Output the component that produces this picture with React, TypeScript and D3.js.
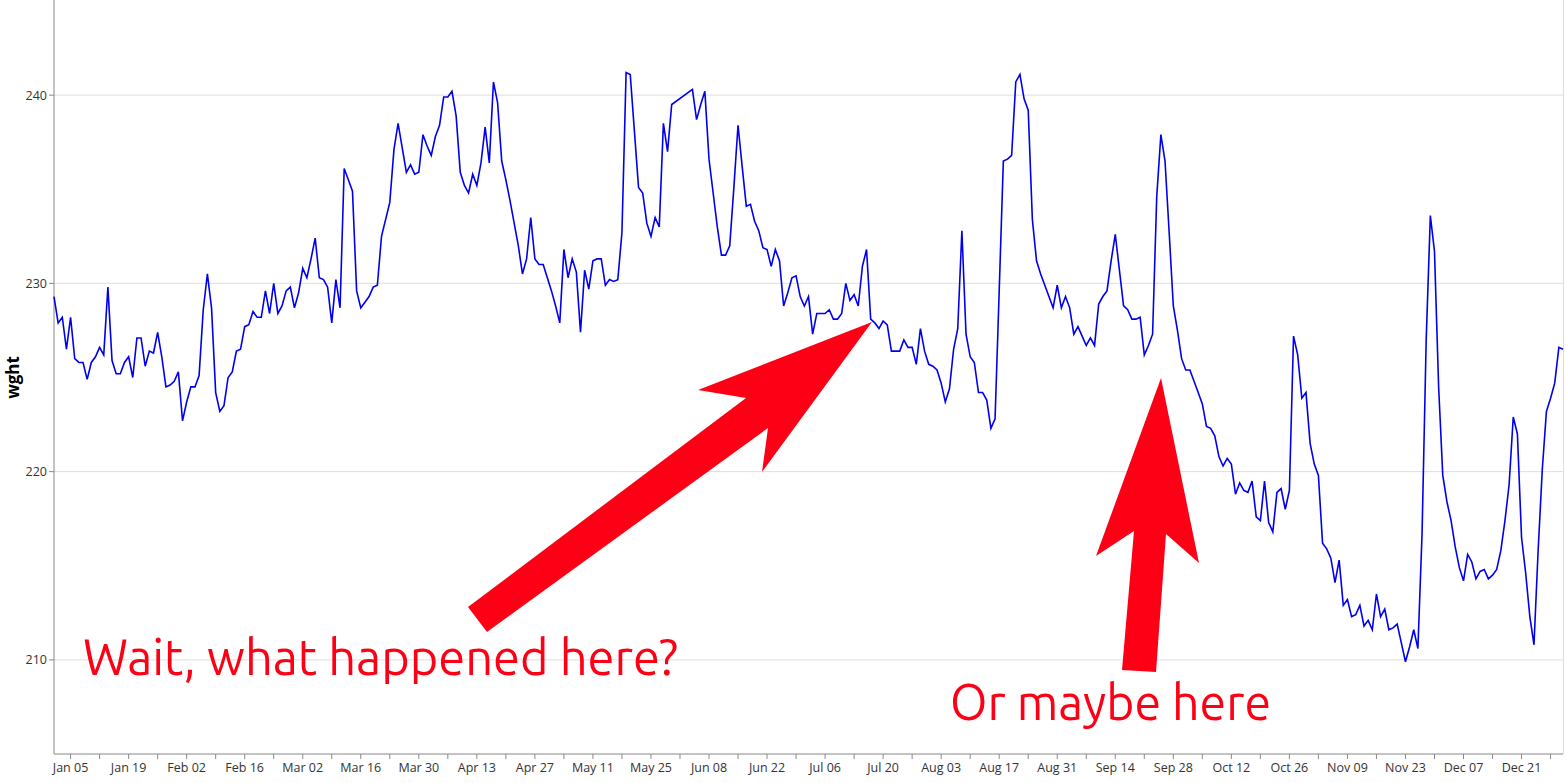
import React from "react";
import * as d3 from "d3";

// daily weight readings, 2014 (null = no reading that day)
const jan = [229.3, 227.9, 228.2, 226.5, 228.2, 226.0, 225.8, 225.8, 224.9, 225.8, 226.1, 226.6, 226.2, 229.8, 225.9, 225.2, 225.2, 225.8, 226.1, 225.0, 227.1, 227.1, 225.6, 226.4, 226.3, 227.4, 226.1, 224.5, 224.6, 224.8, 225.3];
const feb = [222.7, 223.7, 224.5, 224.5, 225.1, 228.6, 230.5, 228.7, 224.2, 223.2, 223.5, 225.0, 225.3, 226.4, 226.5, 227.7, 227.8, 228.5, 228.2, 228.2, 229.6, 228.4, 230.0, 228.4, 228.8, 229.6, 229.8, 228.7];
const mar = [229.5, 230.8, 230.3, 231.3, 232.4, 230.3, 230.2, 229.8, 227.9, 230.2, 228.7, 236.1, 235.5, 234.9, 229.6, 228.7, 229.0, 229.3, 229.8, 229.9, 232.5, 233.4, 234.3, 237.1, 238.5, 237.2, 235.9, 236.3, 235.8, 235.9, 237.9];
const apr = [237.3, 236.8, 237.8, 238.4, 239.9, 239.9, 240.2, 238.9, 235.9, 235.2, 234.8, 235.8, 235.2, 236.4, 238.3, 236.4, 240.7, 239.6, 236.5, 235.5, 234.4, 233.2, 232.0, 230.5, 231.3, 233.5, 231.3, 231.0, 231.0, 230.3];
const may = [229.6, 228.8, 227.9, 231.8, 230.3, 231.3, 230.6, 227.4, 230.7, 229.7, 231.2, 231.3, 231.3, 229.9, 230.2, 230.1, 230.2, 232.7, 241.2, 241.1, 238.1, 235.1, 234.8, 233.2, 232.5, 233.5, 233.0, 238.5, 237.0, 239.5, null];
const jun = [null, null, null, 240.3, 238.7, 239.5, 240.2, 236.6, 234.8, 233.0, 231.5, 231.5, 232.0, 235.1, 238.4, 236.2, 234.1, 234.2, 233.3, 232.8, 231.9, 231.8, 230.9, 231.8, 231.2, 228.8, 229.5, 230.3, 230.4, 229.3];
const jul = [228.8, 229.3, 227.3, 228.4, 228.4, 228.4, 228.6, 228.1, 228.1, 228.4, 230.0, 229.1, 229.4, 228.8, 230.9, 231.8, 228.1, 227.9, 227.6, 228.0, 227.8, 226.4, 226.4, 226.4, 227.0, 226.6, 226.6, 225.7, 227.6, 226.4, 225.7];
const aug = [225.6, 225.4, 224.7, 223.7, 224.4, 226.5, 227.6, 232.8, 227.3, 226.1, 225.8, 224.2, 224.2, 223.8, 222.3, 222.8, 229.6, 236.5, 236.6, 236.8, 240.7, 241.1, 239.8, 239.2, 233.4, 231.2, 230.5, 229.9, 229.3, 228.7, 229.9];
const sep = [228.7, 229.3, 228.7, 227.3, 227.7, 227.2, 226.7, 227.1, 226.7, 228.9, 229.3, 229.6, 231.2, 232.6, 230.7, 228.8, 228.6, 228.1, 228.1, 228.2, 226.2, 226.7, 227.3, 234.6, 237.9, 236.5, 232.7, 228.8, 227.5, 226.0];
const oct = [225.4, 225.4, 224.8, 224.2, 223.6, 222.4, 222.3, 221.9, 220.8, 220.3, 220.7, 220.4, 218.8, 219.4, 219.0, 218.9, 219.5, 217.6, 217.4, 219.5, 217.3, 216.8, 218.9, 219.1, 218.0, 219.0, 227.2, 226.2, 223.9, 224.2, 221.5];
const nov = [220.4, 219.8, 216.2, 215.9, 215.4, 214.1, 215.3, 212.9, 213.2, 212.3, 212.4, 212.9, 211.8, 212.1, 211.6, 213.5, 212.3, 212.7, 211.6, 211.7, 211.9, 210.9, 209.9, 210.7, 211.6, 210.6, 216.7, 227.0, 233.6, 231.7];
const dec = [224.5, 219.8, 218.4, 217.4, 216.0, 214.9, 214.2, 215.6, 215.2, 214.3, 214.7, 214.8, 214.3, 214.5, 214.8, 215.8, 217.4, 219.3, 222.9, 222.0, 216.5, 214.6, 212.3, 210.8, 215.8, 220.1, 223.2, 223.9, 224.7, 226.6, 226.5];

const yTicks = [210, 220, 230, 240];
const yDomain = [205, 245];
const yTitle = "wght";
const annotation1 = "Wait, what happened here?";
const annotation2 = "Or maybe here";

const W = 1566;
const H = 783;
const left = 54;
const right = 1563;
const top = 1;
const bottom = 754;
const RED = "#fe0016";

export default function App() {
  const start = new Date(2014, 0, 1);
  const values = [...jan, ...feb, ...mar, ...apr, ...may, ...jun, ...jul, ...aug, ...sep, ...oct, ...nov, ...dec];
  const data = values
    .map((v, i) => ({ date: d3.timeDay.offset(start, i), value: v }))
    .filter((d) => d.value !== null) as { date: Date; value: number }[];
  const end = d3.timeDay.offset(start, values.length - 1);

  const x = d3.scaleTime().domain([start, end]).range([left, right]);
  const y = d3.scaleLinear().domain(yDomain).range([bottom, top]);

  const line = d3
    .line<{ date: Date; value: number }>()
    .x((d) => x(d.date))
    .y((d) => y(d.value));

  const weeks = d3.timeWeek.range(start, d3.timeDay.offset(end, 1));
  const fmt = d3.timeFormat("%b %d");

  const arrow1 = [
    [468, 607], [746, 398], [698, 390], [872, 322], [762, 472], [768, 428], [487, 632],
  ];
  const arrow2 = [
    [1122, 670], [1134, 531], [1096, 556], [1161, 378], [1199, 563], [1166, 534], [1156, 672],
  ];
  const pts = (a: number[][]) => a.map((p) => p.join(",")).join(" ");

  return (
    <div style={{ position: "absolute", left: 0, top: 0 }}>
      <svg width={W} height={H} style={{ display: "block", background: "#fff" }}>
        {/* grid */}
        {yTicks.map((t) => (
          <line key={"g" + t} x1={left} x2={right} y1={y(t)} y2={y(t)} stroke="#dedede" strokeWidth={1} />
        ))}
        {/* right border */}
        <line x1={right + 0.5} x2={right + 0.5} y1={0} y2={bottom} stroke="#dedede" />
        {/* y axis */}
        <line x1={left} x2={left} y1={0} y2={bottom} stroke="#888" strokeWidth={1} />
        {yTicks.map((t) => (
          <g key={"y" + t}>
            <line x1={left - 5} x2={left} y1={y(t)} y2={y(t)} stroke="#888" />
            <text
              x={left - 7}
              y={y(t)}
              dy="0.35em"
              textAnchor="end"
              fontFamily="'Open Sans', sans-serif"
              fontSize={12.5}
              fill="#333"
            >
              {t}
            </text>
          </g>
        ))}
        <text
          transform={`translate(19, ${(top + bottom) / 2}) rotate(-90)`}
          textAnchor="middle"
          fontFamily="'Open Sans', sans-serif"
          fontWeight="bold"
          fontSize={17}
          fill="#000"
        >
          {yTitle}
        </text>
        {/* x axis */}
        <line x1={left} x2={right} y1={bottom} y2={bottom} stroke="#888" />
        {weeks.map((d, i) => (
          <g key={"x" + i}>
            <line x1={x(d)} x2={x(d)} y1={bottom} y2={bottom + 5} stroke="#888" />
            {i % 2 === 0 && (
              <text
                x={x(d)}
                y={bottom + 18}
                textAnchor="middle"
                fontFamily="'Open Sans', sans-serif"
                fontSize={12.5}
                fill="#333"
              >
                {fmt(d)}
              </text>
            )}
          </g>
        ))}
        {/* data line */}
        <path d={line(data) || ""} fill="none" stroke="#0000f0" strokeWidth={1.6} strokeLinejoin="miter" />
        {/* annotations */}
        <polygon points={pts(arrow1)} fill={RED} />
        <polygon points={pts(arrow2)} fill={RED} />
        <text
          x={83}
          y={675}
          fontFamily="Ubuntu, 'Open Sans', sans-serif"
          fontSize={50}
          fill={RED}
          textLength={595}
          lengthAdjust="spacingAndGlyphs"
        >
          {annotation1}
        </text>
        <text
          x={950}
          y={720}
          fontFamily="Ubuntu, 'Open Sans', sans-serif"
          fontSize={50}
          fill={RED}
          textLength={321}
          lengthAdjust="spacingAndGlyphs"
        >
          {annotation2}
        </text>
      </svg>
    </div>
  );
}
